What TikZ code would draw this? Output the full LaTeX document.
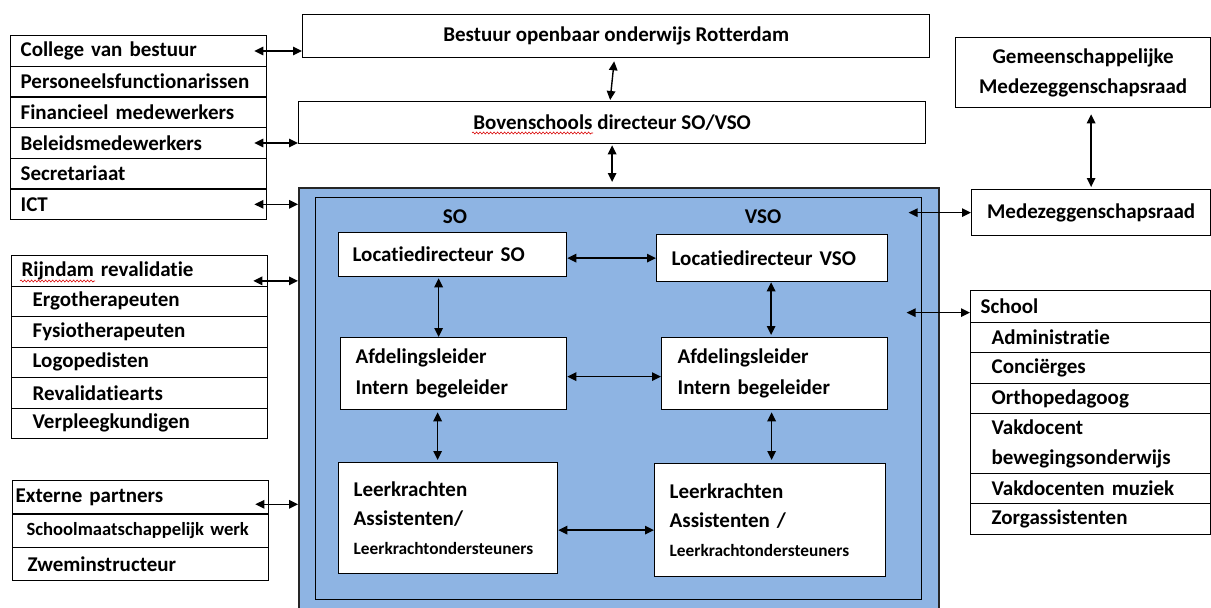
\documentclass[tikz,border=0pt]{standalone}
\usepackage{fontspec}
\setmainfont{Carlito}[Ligatures=CommonOff]
\usetikzlibrary{arrows.meta,decorations.pathmorphing,calc}
\definecolor{bluefill}{RGB}{142,180,227}
\newcommand\fA{\fontsize{21}{30}\selectfont\bfseries}
\newcommand\fB{\fontsize{18.6}{30}\selectfont\bfseries}
\newcommand\fC{\fontsize{21}{31}\selectfont\bfseries}
\newcommand\fD{\fontsize{21}{29}\selectfont\bfseries}
\newcommand\fsmall{\fontsize{17.3}{28}\selectfont\bfseries}
\begin{document}
\begin{tikzpicture}[x=1pt,y=-1pt,
  box/.style={draw=black, line width=1.3pt, fill=white, rectangle, anchor=north west, inner sep=0pt},
  lrow/.style={box, align=left, font=\fA},
  crow/.style={box, align=center, font=\fA},
  txt/.style={inner sep=0pt, font=\fA},
  arr/.style={{Triangle[length=9pt,width=8.5pt]}-{Triangle[length=9pt,width=8.5pt]}, line width=1.4pt, draw=black},
  squig/.style={draw=red!85!black, line width=0.6pt, decorate, decoration={snake, amplitude=1pt, segment length=3.5pt}}
]
\useasboundingbox (0,0) rectangle (1211,608);

% blue central region
\node[box, fill=bluefill, draw=black!85, line width=1.6pt, minimum width=640pt, minimum height=440pt] (blue) at (298,187) {};
\node[box, fill=bluefill, line width=0.9pt, minimum width=606pt, minimum height=402pt] (inner) at (315,197) {};
\node[txt] (soL) at (455,217) {SO};
\node[txt] (vsoL) at (763,217) {VSO};

% top boxes
\node[crow, minimum width=627pt, minimum height=43pt] (bestuur) at (302,14) {Bestuur openbaar onderwijs Rotterdam};
\node[crow, minimum width=627pt, minimum height=42pt] (boven) at (298,101) {Bovenschools directeur SO/VSO};

% left list 1
\node[lrow, minimum width=256pt, minimum height=30.67pt, inner xsep=10pt, text width=236pt] (college) at (10,35) {College van bestuur};
\node[lrow, minimum width=256pt, minimum height=30.67pt, inner xsep=10pt, text width=236pt] (personeel) at (10,65.67) {Personeelsfunctionarissen};
\node[lrow, minimum width=256pt, minimum height=30.67pt, inner xsep=10pt, text width=236pt] (financ) at (10,96.33) {Financieel medewerkers};
\node[lrow, minimum width=256pt, minimum height=30.67pt, inner xsep=10pt, text width=236pt] (beleid) at (10,127) {Beleidsmedewerkers};
\node[lrow, minimum width=256pt, minimum height=30.67pt, inner xsep=10pt, text width=236pt] (secr) at (10,157.67) {Secretariaat};
\node[lrow, minimum width=256pt, minimum height=30.67pt, inner xsep=10pt, text width=236pt] (ict) at (10,188.33) {ICT};

% left list 2
\node[lrow, minimum width=256pt, minimum height=30.5pt, inner xsep=10pt, text width=236pt] (rijndam) at (11,255) {Rijndam revalidatie};
\node[lrow, minimum width=256pt, minimum height=30.5pt, inner xsep=21pt, text width=214pt] (ergo) at (11,285.5) {Ergotherapeuten};
\node[lrow, minimum width=256pt, minimum height=30.5pt, inner xsep=21pt, text width=214pt] (fysio) at (11,316) {Fysiotherapeuten};
\node[lrow, minimum width=256pt, minimum height=30.5pt, inner xsep=21pt, text width=214pt] (logo) at (11,346.5) {Logopedisten};
\node[lrow, minimum width=256pt, minimum height=30.5pt, inner xsep=21pt, text width=214pt] (reval) at (11,377) {Revalidatiearts};
\node[lrow, minimum width=256pt, minimum height=30.5pt, inner xsep=21pt, text width=214pt] (verpl) at (11,407.5) {Verpleegkundigen};

% left list 3
\node[lrow, minimum width=256pt, minimum height=33.3pt, inner xsep=3pt, text width=250pt] (extern) at (12,480) {Externe partners};
\node[lrow, font=\fB, minimum width=256pt, minimum height=33.3pt, inner xsep=14pt, text width=228pt] (smw) at (12,513.3) {\mbox{Schoolmaatschappelijk werk}};
\node[lrow, minimum width=256pt, minimum height=33.3pt, inner xsep=15pt, text width=226pt] (zwem) at (12,546.6) {Zweminstructeur};

% right boxes
\node[crow, font=\fA, minimum width=255pt, minimum height=70pt] (gmr) at (955,37) {Gemeenschappelijke\\Medezeggenschapsraad};
\node[crow, minimum width=239pt, minimum height=46pt] (mr) at (971,189) {Medezeggenschapsraad};

% school list
\node[lrow, minimum width=240pt, minimum height=32pt, inner xsep=10pt, text width=220pt] (school) at (970,290) {School};
\node[lrow, minimum width=240pt, minimum height=30pt, inner xsep=21pt, text width=198pt] (admin) at (970,322) {Administratie};
\node[lrow, minimum width=240pt, minimum height=31pt, inner xsep=21pt, text width=198pt] (concierge) at (970,352) {Conciërges};
\node[lrow, minimum width=240pt, minimum height=30pt, inner xsep=21pt, text width=198pt] (ortho) at (970,383) {Orthopedagoog};
\node[lrow, minimum width=240pt, minimum height=60pt, inner xsep=21pt, text width=198pt] (vakdoc) at (970,413) {Vakdocent\\bewegingsonderwijs};
\node[lrow, minimum width=240pt, minimum height=30pt, inner xsep=21pt, text width=198pt] (muziek) at (970,473) {Vakdocenten muziek};
\node[lrow, minimum width=240pt, minimum height=31pt, inner xsep=21pt, text width=198pt] (zorg) at (970,503) {Zorgassistenten};

% inner boxes
\node[lrow, minimum width=228pt, minimum height=44pt, inner xsep=14pt, text width=200pt] (locSO) at (338,232) {Locatiedirecteur SO};
\node[lrow, minimum width=231pt, minimum height=47pt, inner xsep=15pt, text width=201pt] (locVSO) at (656,234) {Locatiedirecteur VSO};
\node[lrow, font=\fC, minimum width=226pt, minimum height=72pt, inner xsep=15pt, text width=196pt] (afdSO) at (340,337) {Afdelingsleider\\Intern begeleider};
\node[lrow, font=\fC, minimum width=226pt, minimum height=72pt, inner xsep=16pt, text width=194pt] (afdVSO) at (661,337) {Afdelingsleider\\Intern begeleider};
\node[lrow, font=\fD, minimum width=219pt, minimum height=111pt, inner xsep=15pt, text width=189pt] (leerSO) at (338,462) {Leerkrachten\\Assistenten/\\{\fsmall Leerkrachtondersteuners}\\[4pt]};
\node[lrow, font=\fD, minimum width=231pt, minimum height=113pt, inner xsep=15pt, text width=201pt] (leerVSO) at (654,463) {Leerkrachten\\Assistenten /\\{\fsmall Leerkrachtondersteuners}\\[4pt]};

% spell-check squiggles
\draw[squig] (20,281) -- (95,281);
\draw[squig] (472,133) -- (593,133);

% connectors
\draw[arr] ([xshift=-13pt]college.east) -- (college.east -| bestuur.west);
\draw[arr] ([xshift=-13pt]beleid.east) -- (beleid.east -| boven.west);
\draw[arr] ([xshift=-13pt]ict.east) -- (ict.east -| blue.west);
\draw[arr] ([xshift=-15pt,yshift=-10pt]rijndam.east) -- ([yshift=-10pt]rijndam.east -| blue.west);
\draw[arr] ([xshift=-14pt,yshift=-7pt]extern.east) -- ([yshift=-7pt]extern.east -| blue.west);
\draw[arr] ([xshift=-31pt]blue.east |- mr.west) -- (mr.west);
\draw[arr] ([xshift=-33pt,yshift=-6pt]blue.east |- school.west) -- ([yshift=-6pt]school.west);
\draw[arr] ([yshift=-6pt]gmr.south -| mr.north) -- ([yshift=2pt]mr.north);
\draw[arr] ([xshift=-2pt,yshift=-3pt]bestuur.south) -- ([xshift=-2pt,yshift=1pt]boven.north);
\draw[arr] ([yshift=-1pt]boven.south) -- ([yshift=5pt]boven.south |- blue.north);
\draw[arr] (locSO.east |- locVSO.west) -- (locVSO.west);
\draw[arr] ([xshift=-14pt,yshift=-1pt]locSO.south) -- ([xshift=-14pt]locSO.south |- afdSO.north);
\draw[arr] ([xshift=-1pt]locVSO.south) -- ([xshift=-1pt,yshift=2pt]locVSO.south |- afdVSO.north);
\draw[arr] ([yshift=-3pt]afdSO.east) -- ([yshift=-3pt]afdVSO.west);
\draw[arr] ([xshift=-16pt,yshift=-2pt]afdSO.south) -- ([xshift=-16pt,yshift=2pt]afdSO.south |- leerSO.north);
\draw[arr] ([xshift=-3pt,yshift=-2pt]afdVSO.south) -- ([xshift=-3pt,yshift=3pt]afdVSO.south |- leerVSO.north);
\draw[arr] ([yshift=-12pt]leerSO.east) -- ([yshift=-12pt]leerSO.east -| leerVSO.west);
\end{tikzpicture}
\end{document}
